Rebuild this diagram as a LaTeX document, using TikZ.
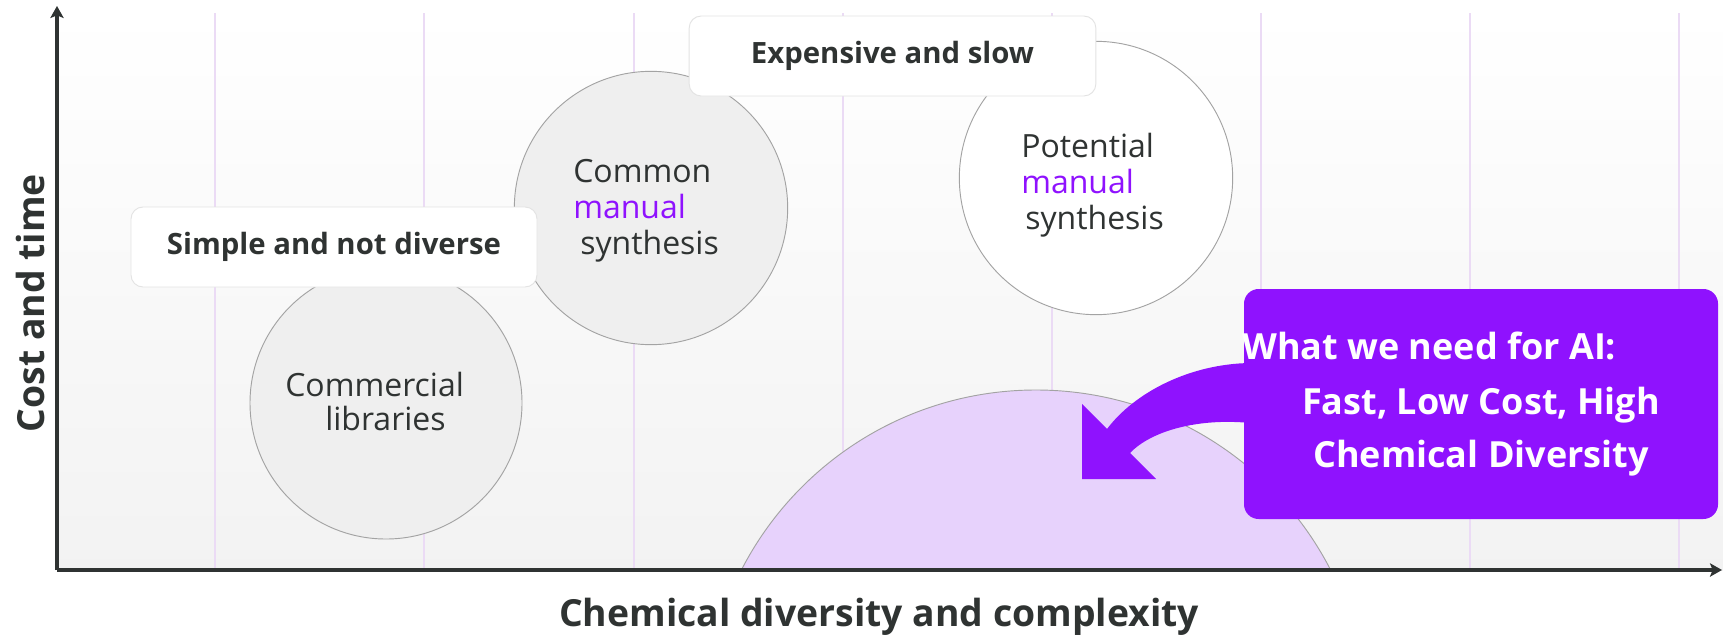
\documentclass[tikz,border=0pt]{standalone}
\usepackage{fontspec}
\setmainfont{Open Sans}
\usetikzlibrary{arrows.meta}

\definecolor{ink}{HTML}{2F3332}
\definecolor{violet}{HTML}{8F12FE}
\definecolor{lavender}{HTML}{E7D2FC}
\definecolor{gridline}{HTML}{EBDBF5}
\definecolor{bubblefill}{HTML}{EFEFEF}
\definecolor{bubbleline}{HTML}{A3A3A3}

\tikzset{
  gridrule/.style={draw=gridline, line width=1.5pt},
  bubble/.style={circle, draw=bubbleline, line width=0.7pt, minimum size=205pt, inner sep=0pt},
  tagbox/.style={rounded corners=9pt, fill=white, draw=black!11, line width=0.7pt,
    font=\fontsize{22}{26}\selectfont\bfseries, text=ink},
  bubbletext/.style={anchor=base west, inner sep=0pt, font=\fontsize{24}{28}\selectfont, text=ink},
  calltext/.style={anchor=base, inner sep=0pt, font=\fontsize{27}{32}\selectfont\bfseries, text=white},
  axis/.style={draw=ink, line width=3.4pt, -{Stealth[length=9pt,width=10pt,inset=2pt]}},
  axislabel/.style={font=\fontsize{28}{32}\selectfont\bfseries, text=ink, inner sep=0pt},
}

\begin{document}
\begin{tikzpicture}[x=0.75pt, y=-0.75pt]
\useasboundingbox (0,0) rectangle (1723,639);

% plot area background
\fill[white] (0,0) rectangle (1723,639);
\shade[top color=white, bottom color=black!5] (57,10) rectangle (1723,570);

% vertical guide lines
\foreach \gx in {215,424,634,843,1052,1261,1470,1679}
  \draw[gridrule] (\gx,13) -- (\gx,568);

% target region, cut off at the horizontal axis
\begin{scope}
  \clip (600,380) rectangle (1500,570);
  \node[circle, fill=lavender, draw=bubbleline, line width=0.7pt, minimum size=496.5pt, inner sep=0pt] (target) at (1036,721) {};
\end{scope}

% method bubbles
\node[bubble, fill=bubblefill, minimum size=204pt] (comm) at (386,403) {};
\node[bubble, fill=bubblefill] (common) at (651,208) {};
\node[bubble, fill=white] (potential) at (1096,178) {};

\node[bubbletext] (commA) at (285,396) {Commercial};
\node[bubbletext] (commB) at (325,430) {libraries};

\node[bubbletext] (comA) at (573,182) {Common};
\node[bubbletext, text=violet] (comB) at (573,218) {manual};
\node[bubbletext] (comC) at (580,254) {synthesis};

\node[bubbletext] (potA) at (1021,157) {Potential};
\node[bubbletext, text=violet] (potB) at (1021,193) {manual};
\node[bubbletext] (potC) at (1025,229) {synthesis};

% tag labels
\node[tagbox, minimum width=304.5pt, minimum height=60pt] (simple) at (334,247) {Simple and not diverse};
\node[tagbox, minimum width=305pt, minimum height=60pt] (slow) at (892.5,56) {Expensive and slow};

% curved arrow pointing into the target region
\coordinate (tipA) at (1082,404);
\coordinate (tipB) at (1082,479);
\coordinate (tipC) at (1156,479);
\fill[violet] (1250,363) .. controls (1190,364) and (1135,392) .. (1107,429)
  -- (tipA) -- (tipB) -- (tipC) -- (1130,453)
  .. controls (1152,430) and (1200,418) .. (1250,423) -- cycle;

% call-out box
\node[rounded corners=11pt, fill=violet, minimum width=355.5pt, minimum height=172.5pt] (need) at (1481,404) {};
\node[calltext, anchor=base west] (needA) at (1242,359) {What we need for AI:};
\node[calltext] (needB) at (1481,414) {Fast, Low Cost, High};
\node[calltext] (needC) at (1481,467) {Chemical Diversity};

% axes
\coordinate (origin) at (57,570);
\coordinate (ytop) at (57,6);
\coordinate (xend) at (1722,570);
\draw[axis] (origin) -- (ytop);
\draw[axis] (origin) -- (xend);

\node[axislabel] (xlabel) at (879,617) {Chemical diversity and complexity};
\node[axislabel, rotate=90] (ylabel) at (30,303) {Cost and time};
\end{tikzpicture}
\end{document}
